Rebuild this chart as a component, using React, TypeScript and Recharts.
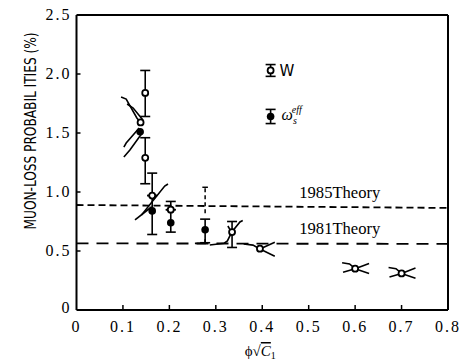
import React from 'react';
import {
  ComposedChart,
  Scatter,
  XAxis,
  YAxis,
  ErrorBar,
  ReferenceLine,
  ReferenceDot,
} from 'recharts';

// ---- axes ----
const xTicks = [0, 0.1, 0.2, 0.3, 0.4, 0.5, 0.6, 0.7, 0.8];
const xTickLabels = ['0', '0.1', '0.2', '0.3', '0.4', '0.5', '0.6', '0.7', '0.8'];
const yTicks = [0, 0.5, 1.0, 1.5, 2.0, 2.5];
const yTickLabels = ['0', '0.5', '1.0', '1.5', '2.0', '2.5'];

// ---- W (open circles) ----
const wWithErr = [
  { x: 0.148, y: 1.84, err: [0.2, 0.19] },
  { x: 0.148, y: 1.29, err: [0.22, 0.17] },
  { x: 0.163, y: 0.97, err: [0, 0.19] },
  { x: 0.203, y: 0.85, err: [0, 0.07] },
  { x: 0.335, y: 0.66, err: [0.13, 0.09] },
];
const wNoErr = [
  { x: 0.138, y: 1.59 },
  { x: 0.395, y: 0.52 },
  { x: 0.6, y: 0.35 },
  { x: 0.7, y: 0.31 },
];

// ---- omega_s^eff (filled circles) ----
const effWithErr = [
  { x: 0.163, y: 0.84, err: [0.2, 0.13] },
  { x: 0.203, y: 0.74, err: [0.08, 0.11] },
  { x: 0.277, y: 0.68, err: [0.11, 0.09] },
];
const effNoErr = [{ x: 0.137, y: 1.51 }];

// upper-limit dashed bar at 0.277
const dashedBar = { x: 0.277, yLow: 0.82, yHigh: 1.04 };

// ---- legend markers ----
const legendW = [{ x: 0.418, y: 2.03, err: [0.05, 0.05] }];
const legendEff = [{ x: 0.418, y: 1.64, err: [0.06, 0.06] }];
const legendTextW = 'W';

// ---- theory lines ----
const theory1985 = { label: '1985Theory', yLeft: 0.89, yRight: 0.865, labelX: 0.567 };
const theory1981 = { label: '1981Theory', yLeft: 0.565, yRight: 0.56, labelX: 0.567 };

// ---- theory curve fragments around points ----
const curveA1 = [{ x: 0.096, y: 1.805 }, { x: 0.107, y: 1.788 }, { x: 0.13, y: 1.627 }, { x: 0.137, y: 1.593 }];
const curveA2 = [{ x: 0.109, y: 1.746 }, { x: 0.122, y: 1.712 }, { x: 0.143, y: 1.61 }];
const curveA3 = [{ x: 0.135, y: 1.542 }, { x: 0.107, y: 1.415 }, { x: 0.102, y: 1.381 }];
const curveA4 = [{ x: 0.143, y: 1.508 }, { x: 0.115, y: 1.356 }, { x: 0.102, y: 1.297 }];
const curveB1 = [{ x: 0.126, y: 0.763 }, { x: 0.162, y: 0.875 }];
const curveB2 = [{ x: 0.14, y: 0.805 }, { x: 0.19, y: 1.05 }, { x: 0.197, y: 1.068 }];
const curveC1 = [{ x: 0.255, y: 0.565 }, { x: 0.277, y: 0.565 }, { x: 0.277, y: 0.6 }];
const curveD1 = [{ x: 0.287, y: 0.551 }, { x: 0.318, y: 0.566 }, { x: 0.325, y: 0.585 }, { x: 0.334, y: 0.658 }];
const curveD2 = [{ x: 0.334, y: 0.658 }, { x: 0.352, y: 0.746 }, { x: 0.358, y: 0.758 }];
const curveD3 = [{ x: 0.326, y: 0.712 }, { x: 0.334, y: 0.658 }];
const curveE1 = [{ x: 0.36, y: 0.56 }, { x: 0.38, y: 0.55 }, { x: 0.395, y: 0.517 }];
const curveE2 = [{ x: 0.395, y: 0.517 }, { x: 0.427, y: 0.575 }];
const curveE3 = [{ x: 0.395, y: 0.517 }, { x: 0.427, y: 0.455 }];
const curveF1 = [{ x: 0.572, y: 0.4 }, { x: 0.588, y: 0.39 }, { x: 0.6, y: 0.35 }];
const curveF2 = [{ x: 0.574, y: 0.32 }, { x: 0.6, y: 0.35 }];
const curveF3 = [{ x: 0.6, y: 0.35 }, { x: 0.63, y: 0.395 }];
const curveF4 = [{ x: 0.6, y: 0.35 }, { x: 0.63, y: 0.31 }];
const curveG1 = [{ x: 0.672, y: 0.36 }, { x: 0.688, y: 0.35 }, { x: 0.7, y: 0.31 }];
const curveG2 = [{ x: 0.674, y: 0.28 }, { x: 0.7, y: 0.31 }];
const curveG3 = [{ x: 0.7, y: 0.31 }, { x: 0.73, y: 0.355 }];
const curveG4 = [{ x: 0.7, y: 0.31 }, { x: 0.73, y: 0.27 }];
const curves = [
  curveA1, curveA2, curveA3, curveA4, curveB1, curveB2, curveC1, curveD1, curveD2, curveD3,
  curveE1, curveE2, curveE3, curveF1, curveF2, curveF3, curveF4, curveG1, curveG2, curveG3, curveG4,
];

const yAxisTitle = 'MUON-LOSS PROBABIL ITIES (%)';

const SERIF = "'Liberation Serif', 'Times New Roman', serif";
const serifStyle: React.CSSProperties = { fontFamily: SERIF };

const OpenDot = (p: any) => (
  <circle cx={p.cx} cy={p.cy} r={3} fill="#fff" stroke="#000" strokeWidth={1.8} />
);
const FilledDot = (p: any) => <circle cx={p.cx} cy={p.cy} r={3.8} fill="#000" />;
const NoDot = () => <g />;

const YTick = (props: any) => {
  const { x, y, payload } = props;
  const i = yTicks.indexOf(payload.value);
  const label = i >= 0 ? yTickLabels[i] : String(payload.value);
  const inner = payload.value > 0 && payload.value < 2.5;
  return (
    <g>
      {inner && <line x1={x} x2={x + 4} y1={y} y2={y} stroke="#000" strokeWidth={1.5} />}
      <text
        x={x - 5}
        y={payload.value === 0 ? y - 2 : y}
        dy={5}
        textAnchor="end"
        style={{ ...serifStyle, fontSize: 16, letterSpacing: 2 }}
        fill="#000"
      >
        {label}
      </text>
    </g>
  );
};

const XTick = (props: any) => {
  const { x, y, payload } = props;
  const i = xTicks.findIndex((t) => Math.abs(t - payload.value) < 1e-9);
  const label = i >= 0 ? xTickLabels[i] : String(payload.value);
  const inner = payload.value > 0 && payload.value < 0.8;
  return (
    <g>
      {inner && <line x1={x} x2={x} y1={y} y2={y - 5} stroke="#000" strokeWidth={1.5} />}
      <text x={x} y={y + 22} textAnchor="middle" style={{ ...serifStyle, fontSize: 16, letterSpacing: 2 }} fill="#000">
        {label}
      </text>
    </g>
  );
};

const XTitle = (props: any) => {
  const vb = props.viewBox || { x: 0, y: 0, width: 0, height: 0 };
  const cx = vb.x + vb.width / 2;
  return (
    <text x={cx - 2} y={vb.y + 46} textAnchor="middle" style={{ ...serifStyle, fontSize: 15 }} fill="#000">
      <tspan>ϕ√</tspan>
      <tspan fontStyle="italic" textDecoration="overline">C</tspan>
      <tspan fontSize={10} dy={3}>1</tspan>
    </text>
  );
};

const YTitle = (props: any) => {
  const vb = props.viewBox || { x: 0, y: 0, width: 0, height: 0 };
  const tx = vb.x + 36;
  const ty = 131;
  return (
    <text
      x={tx}
      y={ty}
      transform={`rotate(-90 ${tx} ${ty})`}
      textAnchor="middle"
      style={{ fontFamily: "'DejaVu Sans Condensed', 'DejaVu Sans', sans-serif", fontSize: 15 }}
      textLength={197}
      lengthAdjust="spacingAndGlyphs"
      fill="#000"
    >
      {yAxisTitle}
    </text>
  );
};

const TheoryLabel = (text: string) => (props: any) => {
  const vb = props.viewBox || { x: 0, y: 0 };
  return (
    <text
      x={vb.x}
      y={vb.y - 9}
      textAnchor="middle"
      style={{ ...serifStyle, fontSize: 16 }}
      textLength={81}
      lengthAdjust="spacingAndGlyphs"
      fill="#000"
    >
      {text}
    </text>
  );
};

const LegendWLabel = (props: any) => {
  const vb = props.viewBox || { x: 0, y: 0 };
  return (
    <text x={vb.x + 9} y={vb.y + 6} style={{ fontFamily: "'DejaVu Sans', sans-serif", fontSize: 15 }} fill="#000">
      {legendTextW}
    </text>
  );
};

const LegendEffLabel = (props: any) => {
  const vb = props.viewBox || { x: 0, y: 0 };
  return (
    <text x={vb.x + 11} y={vb.y + 4} style={{ ...serifStyle, fontStyle: 'italic', fontSize: 16 }} fill="#000">
      <tspan>ω</tspan>
      <tspan fontSize={10} dy={4}>s</tspan>
      <tspan fontSize={10} dy={-11} dx={-5}>eff</tspan>
    </text>
  );
};

export default function App() {
  return (
    <div style={{ position: 'absolute', left: 0, top: 0, background: '#fff' }}>
      <ComposedChart width={465} height={361} margin={{ top: 15, right: 17, left: 0, bottom: 0 }}>
        <XAxis
          dataKey="x"
          type="number"
          domain={[0, 0.8]}
          ticks={xTicks}
          interval={0}
          allowDataOverflow
          height={51}
          tickSize={0}
          tickMargin={0}
          tickLine={false}
          axisLine={{ stroke: '#000', strokeWidth: 2 }}
          tick={<XTick />}
          label={<XTitle />}
        />
        <YAxis
          dataKey="y"
          type="number"
          domain={[0, 2.5]}
          ticks={yTicks}
          interval={0}
          allowDataOverflow
          width={76.5}
          tickSize={0}
          tickMargin={0}
          tickLine={false}
          axisLine={{ stroke: '#000', strokeWidth: 2 }}
          tick={<YTick />}
          label={<YTitle />}
        />
        <ReferenceLine y={2.5} stroke="#000" strokeWidth={2} />
        <ReferenceLine x={0.8} stroke="#000" strokeWidth={2} />

        <ReferenceLine
          segment={[{ x: 0, y: theory1985.yLeft }, { x: 0.8, y: theory1985.yRight }]}
          stroke="#000"
          strokeWidth={1.8}
          strokeDasharray="7 4"
        />
        <ReferenceLine
          segment={[{ x: 0, y: theory1981.yLeft }, { x: 0.8, y: theory1981.yRight }]}
          stroke="#000"
          strokeWidth={1.9}
          strokeDasharray="12 8"
        />
        <ReferenceLine
          segment={[{ x: dashedBar.x, y: dashedBar.yLow }, { x: dashedBar.x, y: dashedBar.yHigh }]}
          stroke="#000"
          strokeWidth={1.5}
          strokeDasharray="4 3"
        />
        <ReferenceLine
          segment={[{ x: dashedBar.x - 0.006, y: dashedBar.yHigh }, { x: dashedBar.x + 0.006, y: dashedBar.yHigh }]}
          stroke="#000"
          strokeWidth={1.5}
        />

        {curves.map((c, i) => (
          <Scatter
            key={'c' + i}
            data={c}
            dataKey="y"
            line={{ stroke: '#000', strokeWidth: 1.6 }}
            lineType="joint"
            shape={NoDot}
            isAnimationActive={false}
          />
        ))}

        <Scatter data={effWithErr} dataKey="y" shape={FilledDot} isAnimationActive={false}>
          <ErrorBar dataKey="err" direction="y" width={5} stroke="#000" strokeWidth={1.6} />
        </Scatter>
        <Scatter data={effNoErr} dataKey="y" shape={FilledDot} isAnimationActive={false} />
        <Scatter data={wWithErr} dataKey="y" shape={OpenDot} isAnimationActive={false}>
          <ErrorBar dataKey="err" direction="y" width={5} stroke="#000" strokeWidth={1.6} />
        </Scatter>
        <Scatter data={wNoErr} dataKey="y" shape={OpenDot} isAnimationActive={false} />

        <Scatter data={legendW} dataKey="y" shape={OpenDot} isAnimationActive={false}>
          <ErrorBar dataKey="err" direction="y" width={5} stroke="#000" strokeWidth={1.6} />
        </Scatter>
        <Scatter data={legendEff} dataKey="y" shape={FilledDot} isAnimationActive={false}>
          <ErrorBar dataKey="err" direction="y" width={5} stroke="#000" strokeWidth={1.6} />
        </Scatter>

        <ReferenceDot x={legendW[0].x} y={legendW[0].y} r={0} stroke="none" label={<LegendWLabel />} />
        <ReferenceDot x={legendEff[0].x} y={legendEff[0].y} r={0} stroke="none" label={<LegendEffLabel />} />
        <ReferenceDot
          x={theory1985.labelX}
          y={theory1985.yLeft - 0.015}
          r={0}
          stroke="none"
          label={TheoryLabel(theory1985.label)}
        />
        <ReferenceDot
          x={theory1981.labelX}
          y={theory1981.yLeft}
          r={0}
          stroke="none"
          label={TheoryLabel(theory1981.label)}
        />
      </ComposedChart>
    </div>
  );
}
